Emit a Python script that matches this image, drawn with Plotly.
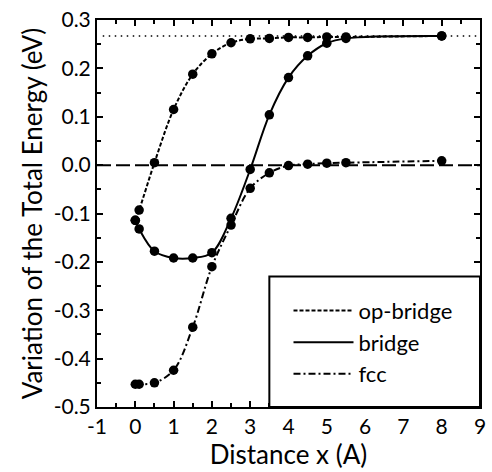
import plotly.graph_objects as go

# ---- data ----
x_op = [0.0, 0.1, 0.5, 1.0, 1.5, 2.0, 2.5, 3.0, 3.5, 4.0, 4.5, 5.0, 5.5, 8.0]
y_op = [-0.114, -0.093, 0.005, 0.115, 0.188, 0.230, 0.253, 0.261, 0.262, 0.264, 0.264, 0.265, 0.265, 0.267]

x_br = [0.0, 0.1, 0.5, 1.0, 1.5, 2.0, 2.5, 3.0, 3.5, 4.0, 4.5, 5.0, 5.5, 8.0]
y_br = [-0.114, -0.132, -0.178, -0.192, -0.192, -0.181, -0.110, -0.009, 0.104, 0.181, 0.226, 0.252, 0.262, 0.267]

x_fcc = [0.0, 0.1, 0.5, 1.0, 1.5, 2.0, 2.5, 3.0, 3.5, 4.0, 4.5, 5.0, 5.5, 8.0]
y_fcc = [-0.453, -0.453, -0.450, -0.424, -0.335, -0.210, -0.124, -0.048, -0.016, -0.001, 0.002, 0.004, 0.005, 0.009]

names = ["op-bridge", "bridge", "fcc"]
ref_zero = 0.0
ref_top = 0.267

x_range = [-1, 9]
y_range = [-0.5, 0.3]
x_ticks = [-1, 0, 1, 2, 3, 4, 5, 6, 7, 8, 9]
x_ticklabels = ["-1", "0", "1", "2", "3", "4", "5", "6", "7", "8", "9"]
y_ticks = [-0.5, -0.4, -0.3, -0.2, -0.1, 0.0, 0.1, 0.2, 0.3]
y_ticklabels = ["-0.5", "-0.4", "-0.3", "-0.2", "-0.1", "0.0", "0.1", "0.2", "0.3"]

FONT = "Lato"
dashes = ["4px,2px", "solid", "7px,3px,2px,3px"]

fig = go.Figure()

# reference lines
fig.add_trace(go.Scatter(x=x_range, y=[ref_zero, ref_zero], mode="lines",
                         line=dict(color="black", width=2, dash="14px,5px"),
                         showlegend=False, hoverinfo="skip"))
fig.add_trace(go.Scatter(x=[x_range[0] + 0.15, x_range[1]], y=[ref_top, ref_top], mode="lines",
                         line=dict(color="black", width=1.5, dash="1.5px,4.5px"),
                         showlegend=False, hoverinfo="skip"))

for xs, ys, nm, ds in [(x_op, y_op, names[0], dashes[0]),
                       (x_br, y_br, names[1], dashes[1]),
                       (x_fcc, y_fcc, names[2], dashes[2])]:
    fig.add_trace(go.Scatter(x=xs, y=ys, mode="lines", name=nm,
                             line=dict(color="black", width=2, dash=ds, shape="spline", smoothing=1.0)))
    fig.add_trace(go.Scatter(x=xs, y=ys, mode="markers", showlegend=False,
                             marker=dict(color="black", size=9.5)))

# legend box
fig.add_shape(type="rect", xref="paper", yref="paper",
              x0=0.45, x1=1.0, y0=0.0, y1=0.337,
              line=dict(color="black", width=2), fillcolor="white", layer="above")

axis_common = dict(showline=True, linewidth=2, linecolor="black", mirror="allticks",
                   ticks="inside", ticklen=6, tickwidth=1.5, tickcolor="black",
                   showgrid=False, zeroline=False,
                   tickfont=dict(family=FONT, size=21, color="black"))

fig.update_layout(
    width=492, height=472,
    margin=dict(l=97, r=6, t=18, b=65),
    paper_bgcolor="white", plot_bgcolor="white",
    font=dict(family=FONT, color="black"),
    xaxis=dict(range=x_range, tickvals=x_ticks, ticktext=x_ticklabels,
               minor=dict(dtick=0.5, ticks="inside", ticklen=4, tickcolor="black", tickwidth=1.5),
               title=dict(text="Distance x (A)", font=dict(family=FONT, size=26), standoff=4),
               **axis_common),
    yaxis=dict(range=y_range, tickvals=y_ticks, ticktext=y_ticklabels,
               minor=dict(dtick=0.05, ticks="inside", ticklen=4, tickcolor="black", tickwidth=1.5),
               title=dict(text="Variation of the Total Energy (eV)", font=dict(family=FONT, size=26), standoff=4),
               **axis_common),
    legend=dict(x=0.5, y=0.303, xanchor="left", yanchor="top",
                bgcolor="rgba(0,0,0,0)", borderwidth=0,
                font=dict(family=FONT, size=22, color="black"),
                itemwidth=60, tracegroupgap=0),
    showlegend=True,
)

fig.write_html("out.html")
